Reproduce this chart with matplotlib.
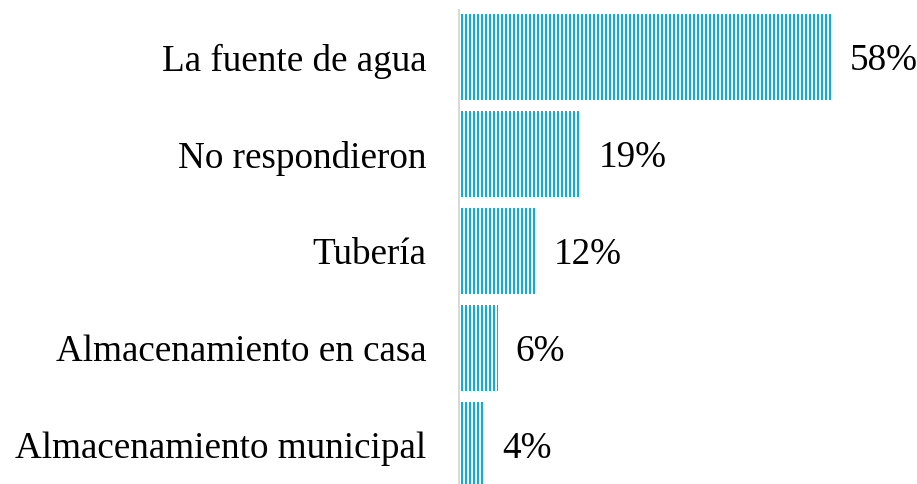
import numpy as np
import matplotlib
matplotlib.use('Agg')
import matplotlib.pyplot as plt

CATEGORIES = ['La fuente de agua', 'No respondieron', 'Tubería',
              'Almacenamiento en casa', 'Almacenamiento municipal']
VALUES = [58, 19, 12, 6, 4]
LABELS = ['58%', '19%', '12%', '6%', '4%']

BLUE = '#00B0F0'
DPI = 96  # 4 '|' -> 24 lines/inch -> 4 px stripe period at this dpi
plt.rcParams['font.family'] = ['Liberation Serif', 'DejaVu Serif']
plt.rcParams['hatch.linewidth'] = 1.5

fig = plt.figure(figsize=(917 / DPI, 484 / DPI), dpi=DPI)
ax = fig.add_axes([459 / 917, 0, 1 - 459 / 917, 1])

y = np.arange(len(CATEGORIES))
bars = ax.barh(y, VALUES, height=0.88, color='white', edgecolor=BLUE,
               hatch='||||', linewidth=0)
for b, lab in zip(bars, LABELS):
    ax.text(b.get_width() + 2.8, b.get_y() + b.get_height() / 2, lab,
            va='center_baseline', ha='left', fontsize=27.8)

ax.set_xlim(0, 71.2)
ax.set_ylim(4.40, -0.588)
ax.set_yticks(y)
ax.set_yticklabels(CATEGORIES, fontsize=27.8)
ax.tick_params(axis='y', length=0, pad=24.5)
ax.set_xticks([])
for s in ['top', 'right', 'bottom']:
    ax.spines[s].set_visible(False)
ax.spines['left'].set_color('#D9D9D9')
ax.spines['left'].set_linewidth(1.5)
ax.spines['left'].set_bounds(4.40, -0.485)

fig.savefig('out.png', dpi=DPI)
